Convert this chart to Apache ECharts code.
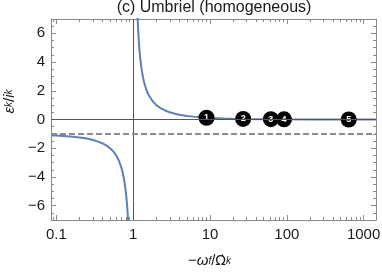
<!DOCTYPE html>
<html><head><meta charset="utf-8">
<script src="https://cdn.jsdelivr.net/npm/echarts@6/dist/echarts.min.js"></script>
<style>html,body{margin:0;padding:0;background:#fff}#c{width:382px;height:273px}</style>
</head><body><div id="c"></div>
<script>
// ---- data ----
const titleText = '(c) Umbriel (homogeneous)';
const leftBranchX = [0.085, 0.1, 0.15, 0.2, 0.25, 0.3, 0.35, 0.4, 0.45, 0.5, 0.55, 0.6, 0.65, 0.7, 0.73, 0.76, 0.78, 0.8, 0.82, 0.84, 0.86];
const leftBranchY = [-1.09, -1.11, -1.18, -1.25, -1.33, -1.43, -1.54, -1.67, -1.82, -2.0, -2.22, -2.5, -2.86, -3.33, -3.70, -4.17, -4.55, -5.0, -5.56, -6.25, -7.14];
const rightBranchX = [1.14, 1.16, 1.18, 1.2, 1.23, 1.26, 1.3, 1.35, 1.4, 1.5, 1.6, 1.8, 2, 2.3, 2.6, 3, 3.5, 4, 5, 6, 8, 10, 15, 20, 30, 50, 100, 200, 500, 1000, 1450];
const rightBranchY = [7.14, 6.25, 5.56, 5.0, 4.35, 3.85, 3.33, 2.86, 2.5, 2.0, 1.67, 1.25, 1.0, 0.77, 0.63, 0.5, 0.4, 0.33, 0.25, 0.2, 0.14, 0.11, 0.07, 0.05, 0.03, 0.02, 0.01, 0.005, 0.002, 0.001, 0.0007];
const markerX = [9, 27, 62, 92, 640];
const markerY = [0.12, 0.04, 0.02, 0.01, 0.0];
const markerLabels = ['1', '2', '3', '4', '5'];
const refLineY = -1;      // dashed reference level
const zeroLineY = 0;      // horizontal axis
const unitLineX = 1;      // vertical axis line
const xMin = 0.085, xMax = 1450;
const yMin = -7, yMax = 7;
const xMajorTicks = [0.1, 1, 10, 100, 1000];
const xTickLabels = ['0.1', '1', '10', '100', '1000'];
const xMinorTicks = [0.09, 0.2, 0.3, 0.4, 0.5, 0.6, 0.7, 0.8, 0.9, 2, 3, 4, 5, 6, 7, 8, 9, 20, 30, 40, 50, 60, 70, 80, 90, 200, 300, 400, 500, 600, 700, 800, 900];
const yMajorTicks = [-6, -4, -2, 0, 2, 4, 6];
const yTickLabels = ['\u22126', '\u22124', '\u22122', '0', '2', '4', '6'];
const yMinorTicks = [-6.5, -5.5, -5, -4.5, -3.5, -3, -2.5, -1.5, -1, -0.5, 0.5, 1, 1.5, 2.5, 3, 3.5, 4.5, 5, 5.5, 6.5];

// ---- styling ----
const FONT = 'Liberation Sans';
const frameColor = '#8a8a8a';
const textColor = '#1a1a1a';
const curveColor = '#5E81B5';

const zip = (xs, ys) => xs.map((x, i) => [x, ys[i]]);
const lookup = (ticks, labels, isLog) => (v) => {
  const i = ticks.findIndex(t => isLog ? Math.abs(Math.log10(t) - Math.log10(v)) < 1e-6 : Math.abs(t - v) < 1e-9);
  return i >= 0 ? labels[i] : '';
};

const xBase = {
  type: 'log', logBase: 10, min: xMin, max: xMax, gridIndex: 0,
  splitLine: { show: false }, axisLabel: { show: false },
  axisLine: { show: false, onZero: false }, axisTick: { show: false }
};
const yBase = {
  type: 'value', min: yMin, max: yMax, gridIndex: 0,
  splitLine: { show: false }, axisLabel: { show: false },
  axisLine: { show: false, onZero: false }, axisTick: { show: false }
};
const frameLine = { show: true, onZero: false, lineStyle: { color: frameColor, width: 1 } };
const tick = (vals, len) => ({ show: true, inside: true, length: len, customValues: vals, lineStyle: { color: frameColor, width: 1 } });

const subRich = {
  n: { fontFamily: FONT, fontSize: 15, fontStyle: 'normal', color: textColor, lineHeight: 20 },
  o: { fontFamily: 'DejaVu Sans', fontSize: 14, fontStyle: 'normal', color: textColor, lineHeight: 20 },
  e: { fontFamily: FONT, fontSize: 15, fontStyle: 'italic', color: textColor, lineHeight: 20 },
  s: { fontFamily: FONT, fontSize: 10, fontStyle: 'italic', color: textColor, lineHeight: 12 }
};

const option = {
  animation: false,
  backgroundColor: '#fff',
  title: {
    text: titleText, left: 214, top: 0, textAlign: 'center', padding: 0,
    textStyle: { fontFamily: FONT, fontSize: 16, fontWeight: 'normal', color: textColor }
  },
  grid: { left: 51, right: 6, top: 19, bottom: 53, outerBoundsMode: 'none', containLabel: false },
  xAxis: [
    Object.assign({}, xBase, {
      position: 'bottom', axisLine: frameLine, axisTick: tick(xMajorTicks, 5),
      axisLabel: { show: true, customValues: xMajorTicks, formatter: lookup(xMajorTicks, xTickLabels, true),
        fontFamily: FONT, fontSize: 15, color: textColor, margin: 7 },
      name: '{n|\u2212}{e|\u03c9}{s|f}{n|/}{o|\u03a9\u0307}{s|k}', nameLocation: 'middle', nameGap: 31,
      nameTextStyle: { fontFamily: FONT, fontSize: 15, color: textColor, rich: subRich, padding: [0, 8, 0, 0] }
    }),
    Object.assign({}, xBase, { position: 'bottom', axisTick: tick(xMinorTicks, 3) }),
    Object.assign({}, xBase, { position: 'top', axisLine: frameLine, axisTick: tick(xMajorTicks, 5) }),
    Object.assign({}, xBase, { position: 'top', axisTick: tick(xMinorTicks, 3) })
  ],
  yAxis: [
    Object.assign({}, yBase, {
      position: 'left', axisLine: frameLine, axisTick: tick(yMajorTicks, 5),
      axisLabel: { show: true, customValues: yMajorTicks, formatter: lookup(yMajorTicks, yTickLabels, false),
        fontFamily: FONT, fontSize: 15, color: textColor, margin: 6 },
      name: '{e|\u03b5}{s|k}{n|/}{e|i}{s|k}', nameLocation: 'middle', nameGap: 26, nameRotate: 90,
      nameTextStyle: { fontFamily: FONT, fontSize: 15, color: textColor, rich: subRich, padding: [0, 0, 0, 36] }
    }),
    Object.assign({}, yBase, { position: 'left', axisTick: tick(yMinorTicks, 3) }),
    Object.assign({}, yBase, { position: 'right', axisLine: frameLine, axisTick: tick(yMajorTicks, 5) }),
    Object.assign({}, yBase, { position: 'right', axisTick: tick(yMinorTicks, 3) })
  ],
  series: [
    {
      type: 'line', xAxisIndex: 0, yAxisIndex: 0, data: [], z: 1, silent: true,
      markLine: {
        silent: true, symbol: 'none', label: { show: false }, animation: false,
        lineStyle: { color: '#555', width: 1, type: 'solid' },
        data: [{ xAxis: unitLineX }, { yAxis: zeroLineY }]
      }
    },
    {
      type: 'line', xAxisIndex: 0, yAxisIndex: 0, data: zip(leftBranchX, leftBranchY), z: 2,
      showSymbol: false, symbol: 'none', clip: true,
      lineStyle: { color: curveColor, width: 2 }
    },
    {
      type: 'line', xAxisIndex: 0, yAxisIndex: 0, data: zip(rightBranchX, rightBranchY), z: 2,
      showSymbol: false, symbol: 'none', clip: true,
      lineStyle: { color: curveColor, width: 2 }
    },
    {
      type: 'line', xAxisIndex: 0, yAxisIndex: 0, data: [], z: 3, silent: true,
      markLine: {
        silent: true, symbol: 'none', label: { show: false }, animation: false,
        lineStyle: { color: '#8c8c8c', width: 2, type: [6, 3] },
        data: [{ yAxis: refLineY }]
      }
    },
    {
      type: 'scatter', xAxisIndex: 0, yAxisIndex: 0, z: 4,
      symbol: 'circle', symbolSize: 16,
      itemStyle: { color: '#000', opacity: 1, borderWidth: 0 },
      label: { show: true, position: 'inside', formatter: '{b}', color: '#fff', fontSize: 9, fontWeight: 'bold', fontFamily: FONT },
      data: markerX.map((x, i) => ({ name: markerLabels[i], value: [x, markerY[i]] }))
    }
  ]
};
const chart = echarts.init(document.getElementById('c'), null, { renderer: 'canvas' });
chart.setOption(option);
</script>
</body></html>
